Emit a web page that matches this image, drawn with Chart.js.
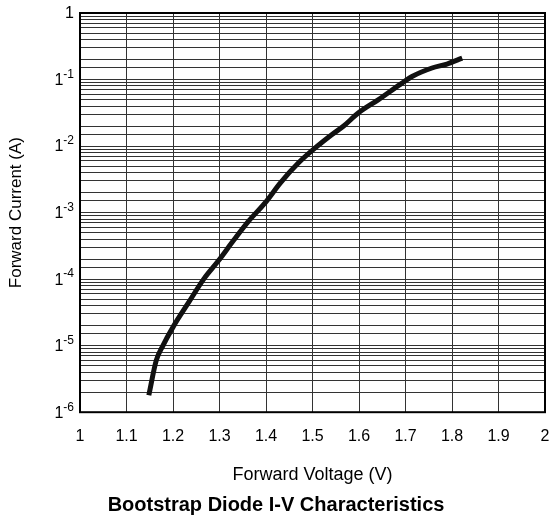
<!DOCTYPE html>
<html>
<head>
<meta charset="utf-8">
<script src="https://cdn.jsdelivr.net/npm/chart.js@4/dist/chart.umd.min.js"></script>
<style>
  html, body { margin: 0; padding: 0; background: #fff; }
  #wrap { width: 552px; height: 517px; }
</style>
</head>
<body>
<div id="wrap"><canvas id="chart"></canvas></div>
<script>
// forward voltage (V) and forward current (A)
const voltage = [1.148, 1.164, 1.177, 1.2, 1.234, 1.266, 1.298, 1.33, 1.363, 1.398, 1.431,
  1.47, 1.502, 1.542, 1.567, 1.599, 1.642, 1.688, 1.714, 1.757, 1.789, 1.822];
const current = [1.8e-6, 6.0e-6, 9.6e-6, 1.9e-5, 4.5e-5, 1.0e-4, 1.9e-4, 3.8e-4, 7.5e-4, 1.4e-3, 2.8e-3,
  5.6e-3, 8.9e-3, 1.49e-2, 2.0e-2, 3.16e-2, 5.0e-2, 8.4e-2, 0.111, 0.149, 0.171, 0.21];

// y tick labels: base and exponent as printed on the chart
const yDecades = [1, 1e-1, 1e-2, 1e-3, 1e-4, 1e-5, 1e-6];
const yExponents = ["", "-1", "-2", "-3", "-4", "-5", "-6"];

const FONT = "'Liberation Sans', Arial, Helvetica, sans-serif";

// frame round the plot + the "1^-n" labels on the y axis
const framePlugin = {
  id: "frame",
  afterDraw(chart) {
    const ctx = chart.ctx;
    const a = chart.chartArea;
    const y = chart.scales.y;
    ctx.save();
    ctx.strokeStyle = "#000";
    ctx.lineWidth = 2;
    ctx.strokeRect(a.left, a.top, a.right - a.left, a.bottom - a.top);

    ctx.fillStyle = "#000";
    ctx.textBaseline = "middle";
    ctx.textAlign = "left";
    yDecades.forEach((v, i) => {
      const py = y.getPixelForValue(v);
      const exp = yExponents[i];
      ctx.font = "16px " + FONT;
      const baseW = ctx.measureText("1").width;
      ctx.font = "12px " + FONT;
      const expW = exp ? ctx.measureText(exp).width : 0;
      const right = a.left - 6;
      ctx.font = "16px " + FONT;
      ctx.fillText("1", right - expW - baseW, py + 1);
      if (exp) {
        ctx.font = "12px " + FONT;
        ctx.fillText(exp, right - expW, py - 5);
      }
    });
    ctx.restore();
  }
};

const ctx = document.getElementById("chart").getContext("2d");
new Chart(ctx, {
  type: "line",
  data: {
    datasets: [{
      data: voltage.map((v, i) => ({ x: v, y: current[i] })),
      borderColor: "#111",
      borderWidth: 5,
      pointRadius: 0,
      cubicInterpolationMode: "monotone",
      fill: false
    }]
  },
  options: {
    responsive: true,
    maintainAspectRatio: false,
    animation: false,
    layout: { padding: { left: 0, right: 0, top: 13, bottom: 0 } },
    plugins: {
      legend: { display: false },
      tooltip: { enabled: false },
      title: {
        display: true,
        position: "bottom",
        text: "Bootstrap Diode I-V Characteristics",
        color: "#000",
        font: { family: FONT, size: 20, weight: "bold" },
        padding: { top: 7, bottom: 0 }
      }
    },
    scales: {
      x: {
        type: "linear",
        min: 1,
        max: 2,
        grid: { color: "#333", lineWidth: 1, drawTicks: false },
        border: { display: false },
        ticks: {
          stepSize: 0.1,
          color: "#000",
          padding: 15,
          font: { family: FONT, size: 16 },
          maxRotation: 0,
          callback: (v) => Math.round(v * 10) / 10
        },
        afterFit: (scale) => { scale.paddingRight = 7; },
        title: {
          display: true,
          text: "Forward Voltage (V)",
          color: "#000",
          font: { family: FONT, size: 18 },
          padding: { top: 3, bottom: 0 }
        }
      },
      y: {
        type: "logarithmic",
        min: 1e-6,
        max: 1,
        grid: { color: "#333", lineWidth: 1, drawTicks: false },
        border: { display: false },
        ticks: { display: false },
        afterFit: (scale) => { scale.width = 80; },
        title: {
          display: true,
          text: "Forward Current (A)",
          color: "#000",
          font: { family: FONT, size: 17 },
          padding: { top: 6, bottom: 0 }
        }
      }
    }
  },
  plugins: [framePlugin]
});
</script>
</body>
</html>
